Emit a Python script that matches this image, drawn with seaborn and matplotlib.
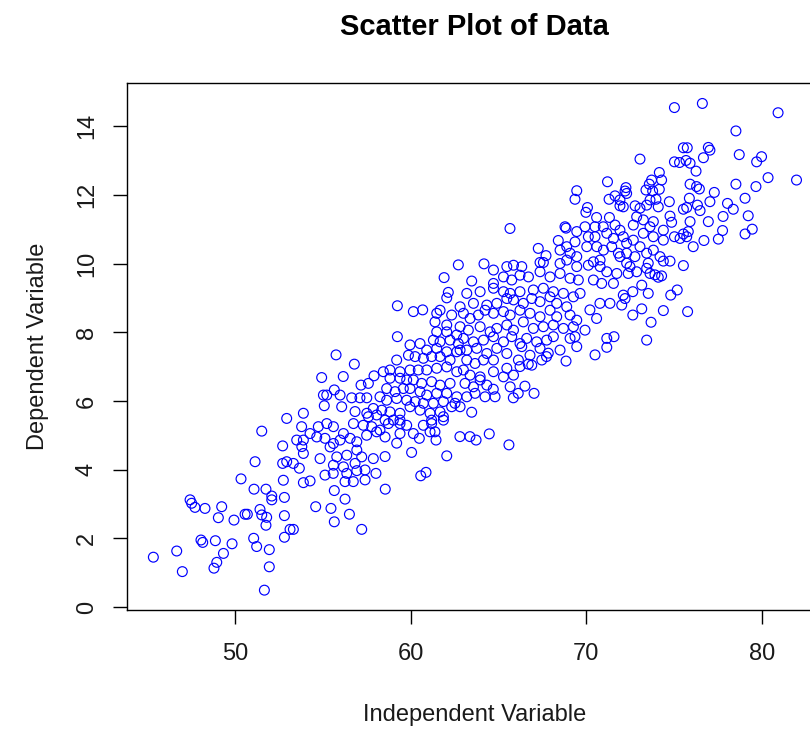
import matplotlib
matplotlib.use("Agg")
import matplotlib.pyplot as plt
import seaborn as sns
import pandas as pd

# (independent, dependent) observations, grouped by region of the cloud
lower_tail = [
    (51.52, 5.12), (52.71, 4.69), (53.51, 4.86), (51.14, 4.23), (52.71, 4.18),
    (52.94, 4.23), (53.32, 4.18), (53.66, 4.04), (50.34, 3.73), (52.75, 3.69),
    (53.89, 3.62), (51.08, 3.43), (51.76, 3.43), (52.09, 3.23), (52.09, 3.12),
    (52.81, 3.19), (47.44, 3.12), (47.53, 3.02), (47.72, 2.90), (48.29, 2.87),
    (49.24, 2.92), (49.05, 2.60), (49.94, 2.53), (50.57, 2.70), (50.70, 2.70),
    (51.42, 2.84), (51.52, 2.68), (51.80, 2.61), (51.76, 2.38), (52.81, 2.66),
    (53.13, 2.26), (53.32, 2.26), (52.81, 2.03), (48.06, 1.95), (48.16, 1.88),
    (48.88, 1.93), (49.83, 1.84), (51.06, 2.00), (51.23, 1.76), (51.95, 1.67),
    (46.68, 1.63), (45.35, 1.45), (49.34, 1.56), (48.96, 1.30), (48.80, 1.13),
    (47.00, 1.03), (51.95, 1.17), (51.67, 0.49), (52.94, 5.49),
]

lower_body = [
    (53.79, 5.25), (54.27, 5.05), (54.74, 5.25), (55.22, 5.34), (55.60, 5.25),
    (56.17, 5.05), (56.74, 5.34), (57.30, 5.29), (57.78, 5.25), (58.25, 5.15),
    (58.73, 5.34), (59.39, 5.34), (59.77, 5.29), (60.72, 5.29), (61.19, 5.34),
    (61.86, 5.44), (53.89, 4.86), (54.65, 4.95), (55.12, 4.91), (55.60, 4.76),
    (55.98, 4.86), (56.55, 4.91), (56.93, 4.81), (57.49, 5.00), (58.06, 5.10),
    (58.54, 4.95), (59.39, 5.05), (60.15, 5.05), (61.10, 5.10), (61.38, 5.10),
    (53.89, 4.47), (54.84, 4.32), (55.41, 4.66), (55.79, 4.37), (56.36, 4.42),
    (56.93, 4.57), (57.21, 4.37), (57.87, 4.32), (56.83, 4.18), (56.17, 4.08),
    (55.60, 4.13), (53.80, 4.67),
    (55.65, 3.39), (56.26, 3.14), (54.59, 2.92), (55.46, 2.87), (56.51, 2.70),
    (55.65, 2.48), (57.21, 2.26), (58.55, 3.43), (60.57, 3.82), (60.87, 3.92),
    (58.02, 3.89), (57.40, 3.70), (56.73, 3.65), (56.26, 3.65), (57.40, 3.99),
    (56.93, 3.97), (56.36, 3.89), (55.12, 3.84), (55.59, 3.89), (54.27, 3.67),
    (62.05, 4.40), (60.05, 4.50), (58.54, 4.38), (59.20, 4.77), (61.44, 4.86),
    (60.49, 4.91), (64.47, 5.04), (65.59, 4.72), (63.72, 4.86), (62.80, 4.96),
    (63.37, 4.96),
]

middle_body = [
    (61.48, 8.55), (61.67, 8.64), (61.38, 8.30), (62.05, 8.21), (62.33, 8.50),
    (61.48, 8.01), (62.05, 8.01), (62.62, 7.92), (61.29, 7.77), (61.67, 7.72),
    (62.24, 7.77), (62.71, 7.67), (59.96, 7.63), (60.53, 7.67), (60.91, 7.48),
    (61.48, 7.53), (62.05, 7.43), (62.62, 7.43), (59.87, 7.33), (60.25, 7.29),
    (60.72, 7.24), (61.19, 7.29), (61.67, 7.29), (62.24, 7.19), (59.20, 7.19),
    (58.82, 6.90), (59.39, 6.85), (59.96, 6.90), (60.43, 6.90), (60.91, 6.90),
    (61.48, 6.95), (62.05, 6.99), (62.62, 6.85), (58.44, 6.85), (58.82, 6.66),
    (59.39, 6.66), (59.77, 6.61), (60.15, 6.61), (60.62, 6.51), (61.19, 6.56),
    (61.67, 6.46), (62.24, 6.51), (58.63, 6.36), (59.11, 6.27), (59.58, 6.36),
    (59.96, 6.36), (60.53, 6.27), (60.91, 6.17), (61.48, 6.22), (62.05, 6.22),
    (62.62, 6.12), (58.25, 6.12), (58.63, 6.02), (59.20, 6.07), (59.77, 6.02),
    (60.25, 5.98), (60.72, 5.93), (61.29, 5.93), (61.86, 5.98), (62.52, 5.93),
    (57.87, 5.78), (58.35, 5.73), (58.82, 5.68), (59.39, 5.64), (59.96, 5.83),
    (60.53, 5.73), (61.10, 5.64), (61.67, 5.68), (62.33, 5.83), (57.59, 5.54),
    (58.06, 5.59), (58.54, 5.44), (59.01, 5.44), (59.39, 5.44), (61.19, 5.44),
    (61.86, 5.54),
    (61.90, 9.59), (62.14, 9.16), (62.05, 9.00), (59.24, 8.77), (60.15, 8.60),
    (60.68, 8.65), (59.24, 7.87), (55.75, 7.34), (56.79, 7.07), (54.93, 6.68),
    (56.16, 6.71), (57.91, 6.73), (57.17, 6.46), (57.59, 6.51), (55.65, 6.32),
    (55.98, 6.17), (55.03, 6.17), (55.22, 6.17), (56.64, 6.09), (57.11, 6.09),
    (57.50, 6.09), (55.08, 5.86), (56.07, 5.83), (53.89, 5.64), (56.83, 5.69),
    (57.50, 5.64), (62.71, 9.96),
]

upper_body = [
    (64.71, 9.81), (65.47, 9.91), (65.85, 9.95), (66.32, 9.91), (68.50, 10.00),
    (69.45, 9.91), (70.11, 9.95), (70.78, 9.91), (71.16, 9.76), (71.73, 9.71),
    (64.71, 9.42), (65.28, 9.61), (65.75, 9.52), (66.22, 9.66), (66.70, 9.61),
    (67.36, 9.76), (67.93, 9.61), (68.50, 9.71), (69.07, 9.57), (69.54, 9.52),
    (70.40, 9.52), (70.87, 9.42), (71.54, 9.42), (63.19, 9.13), (63.95, 9.18),
    (64.71, 9.28), (65.28, 9.18), (65.66, 9.13), (66.22, 9.18), (66.98, 9.23),
    (67.55, 9.28), (68.12, 9.18), (68.69, 9.13), (69.26, 9.03), (69.64, 9.13),
    (62.81, 8.74), (63.57, 8.84), (64.33, 8.79), (64.90, 8.84), (65.47, 8.98),
    (65.85, 8.94), (66.41, 8.84), (66.89, 8.98), (67.36, 8.89), (67.93, 9.03),
    (68.31, 8.84), (68.88, 8.74), (63.00, 8.55), (63.38, 8.40), (63.85, 8.50),
    (64.23, 8.64), (64.71, 8.55), (65.28, 8.60), (65.66, 8.50), (66.22, 8.64),
    (66.79, 8.55), (67.36, 8.45), (67.93, 8.64), (68.31, 8.45), (69.07, 8.50),
    (69.45, 8.35), (62.81, 8.16), (63.28, 8.06), (63.95, 8.16), (64.52, 8.01),
    (64.90, 8.11), (65.47, 8.21), (65.85, 8.06), (66.41, 8.30), (66.98, 8.11),
    (67.55, 8.16), (68.12, 8.21), (68.69, 8.11), (69.26, 8.16), (63.00, 7.82),
    (63.57, 7.72), (64.14, 7.77), (64.71, 7.87), (65.28, 7.72), (65.75, 7.87),
    (66.22, 7.67), (66.60, 7.82), (67.17, 7.72), (67.74, 7.77), (68.12, 7.87),
    (62.81, 7.48), (63.19, 7.48), (63.76, 7.53), (64.33, 7.38), (64.90, 7.53),
    (65.47, 7.38), (66.32, 7.58), (66.79, 7.33), (67.36, 7.53), (68.50, 7.48),
    (63.19, 7.19), (63.66, 7.09), (64.14, 7.19), (64.71, 7.19), (65.47, 6.95),
    (66.13, 7.19), (66.89, 7.04), (67.46, 7.19), (63.00, 6.90), (63.38, 6.75),
    (63.95, 6.70), (64.71, 6.85), (65.28, 6.70), (65.85, 6.75), (63.09, 6.51),
    (63.57, 6.41), (63.95, 6.61), (64.33, 6.46), (65.66, 6.41), (63.19, 6.12),
    (63.66, 6.22), (64.23, 6.12), (62.81, 5.83),
    (63.47, 5.67), (64.70, 6.34), (64.80, 6.12), (65.84, 6.09), (66.12, 6.22),
    (66.50, 6.43), (67.02, 6.22), (66.22, 7.00), (66.69, 7.07), (68.84, 7.16),
    (67.73, 7.29), (67.83, 7.39), (70.49, 7.34), (71.16, 7.56), (71.16, 7.82),
    (71.57, 7.87), (69.92, 8.06), (69.35, 7.87), (69.07, 7.82), (69.45, 7.58),
    (70.58, 8.40), (70.20, 8.65), (70.77, 8.84), (71.34, 8.84), (63.47, 9.49),
    (64.17, 9.99),
]

right_body = [
    (75.52, 9.94), (74.76, 10.07), (74.38, 10.07), (74.28, 9.64), (73.90, 9.67),
    (74.09, 9.60), (73.62, 9.71), (73.43, 9.86), (73.52, 10.01), (72.48, 9.91),
    (72.38, 9.71), (72.86, 9.76), (72.29, 10.01), (73.15, 9.37), (72.64, 9.18),
    (73.52, 9.13), (75.17, 9.23), (74.80, 9.08), (72.10, 9.08), (72.20, 8.98),
    (72.01, 8.79), (73.15, 8.68), (72.64, 8.50), (74.38, 8.63), (75.76, 8.60),
    (73.68, 8.29), (73.43, 7.77),
    (68.50, 10.39), (69.07, 10.30), (69.45, 10.20), (70.02, 10.49), (70.59, 10.49),
    (70.97, 10.39), (71.44, 10.49), (71.82, 10.30), (68.88, 10.10), (70.40, 10.05),
    (70.78, 10.10), (68.88, 10.49), (69.35, 10.63), (70.49, 10.78), (71.16, 10.88),
    (71.54, 10.73),
    (71.91, 10.97), (72.10, 10.78), (72.29, 10.59), (72.67, 10.68), (73.05, 10.49),
    (72.29, 10.30), (72.76, 10.20), (73.43, 10.30), (73.81, 10.39), (74.19, 10.20),
    (71.91, 10.20), (72.86, 11.36), (73.24, 11.27), (72.67, 11.12), (73.62, 11.07),
    (73.81, 11.22), (74.38, 10.97), (73.81, 10.78), (73.24, 10.88), (72.10, 11.65),
    (73.05, 11.61), (73.43, 11.70), (71.91, 11.85), (72.29, 12.04),
]

upper_tail = [
    (71.20, 12.38), (69.45, 12.12), (69.35, 11.87), (72.25, 12.21), (72.20, 12.11),
    (71.63, 11.97), (71.29, 11.87), (71.91, 11.68), (70.06, 11.63), (69.97, 11.49),
    (70.58, 11.34), (71.31, 11.34), (65.65, 11.02), (68.78, 11.07), (68.84, 11.03),
    (69.92, 11.07), (70.49, 11.07), (69.45, 10.93), (70.11, 10.78), (70.96, 11.07),
    (71.63, 11.12), (68.40, 10.67), (67.26, 10.44), (67.70, 10.23), (67.55, 10.03),
    (67.36, 10.03),
    (75.01, 14.54), (76.60, 14.66), (80.91, 14.39), (78.51, 13.86), (73.05, 13.04),
    (75.52, 13.37), (75.74, 13.37), (76.94, 13.38), (77.03, 13.30), (78.70, 13.17),
    (79.97, 13.11), (79.69, 12.96), (76.66, 13.08), (75.01, 12.96), (75.30, 12.94),
    (75.67, 13.00), (75.90, 12.92), (76.24, 12.69), (74.15, 12.65), (80.34, 12.50),
    (81.96, 12.43), (78.51, 12.31), (79.65, 12.24), (73.71, 12.43), (73.58, 12.31),
    (74.28, 12.43), (73.77, 12.11), (74.15, 12.16), (73.39, 12.14), (75.90, 12.31),
    (76.27, 12.24), (76.43, 12.17), (77.28, 12.07), (75.86, 11.90), (77.03, 11.80),
    (79.03, 11.90), (78.03, 11.75), (78.36, 11.58), (74.72, 11.80), (72.77, 11.68),
    (73.62, 11.85), (73.96, 11.87), (74.09, 11.65), (75.52, 11.58), (75.71, 11.63),
    (76.32, 11.70), (76.47, 11.54), (77.78, 11.37), (79.21, 11.39), (76.94, 11.22),
    (74.76, 11.38), (74.85, 11.20), (75.90, 11.22), (75.80, 10.93), (75.71, 10.78),
    (75.52, 10.86), (77.75, 10.96), (77.51, 10.71), (79.03, 10.86), (79.44, 11.00),
    (76.69, 10.67), (76.08, 10.49), (74.38, 10.68), (75.01, 10.78), (75.33, 10.73),
]

x_ticks = [50, 60, 70, 80]
y_ticks = [0, 2, 4, 6, 8, 10, 12, 14]

points = lower_tail + lower_body + middle_body + upper_body + right_body + upper_tail
df = pd.DataFrame(points, columns=["independent", "dependent"])

sns.set_theme(style="ticks")
plt.rcParams["font.family"] = ["Liberation Sans", "DejaVu Sans"]

W, H = 810, 729
fig = plt.figure(figsize=(W / 100, H / 100), dpi=100)
fig.patch.set_facecolor("white")

# plotting region in pixels: left 127, right 822 (runs past the canvas), top 82.5, bottom 609.5
ax = fig.add_axes([127 / W, 1 - 609.5 / H, (822 - 127) / W, (609.5 - 82.5) / H])
ax.set_facecolor("white")

sns.scatterplot(data=df, x="independent", y="dependent", ax=ax,
                marker="o", s=50, legend=False)
coll = ax.collections[0]
coll.set_facecolor("none")
coll.set_edgecolor("#0000ff")
coll.set_linewidth(0.85)

ax.set_xlim(43.85, 83.41)
ax.set_ylim(-0.073, 15.27)
ax.set_xticks(x_ticks)
ax.set_yticks(y_ticks)
ax.set_xticklabels([str(v) for v in x_ticks])
ax.set_yticklabels([str(v) for v in y_ticks])
ax.set_xlabel("")
ax.set_ylabel("")

for side in ["left", "right", "top", "bottom"]:
    ax.spines[side].set_visible(True)
    ax.spines[side].set_color("black")
    ax.spines[side].set_linewidth(1.0)

ax.tick_params(axis="both", direction="out", length=10, width=1.0,
               color="black", labelsize=17, labelcolor="#1a1a1a")
ax.tick_params(axis="x", pad=14)
ax.tick_params(axis="y", pad=11)
for t in ax.get_yticklabels():
    t.set_rotation(90)
    t.set_va("center")

fig.text(474.5 / W, 1 - 35 / H, "Scatter Plot of Data", ha="center", va="baseline",
         fontsize=21, fontweight="bold", color="black")
fig.text(474.5 / W, 1 - 721 / H, "Independent Variable", ha="center", va="baseline",
         fontsize=17, color="#1a1a1a")
fig.text(38 / W, 1 - 346 / H, "Dependent Variable", ha="center", va="center",
         rotation=90, fontsize=17, color="#1a1a1a")

fig.savefig("out.png", dpi=100, facecolor="white")
